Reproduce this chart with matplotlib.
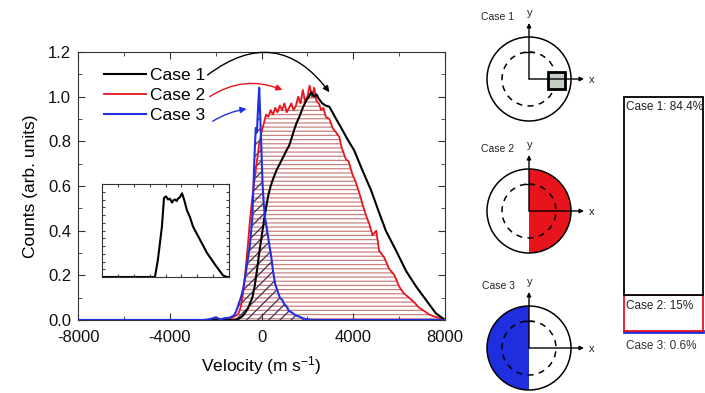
""" Velocity distributions for the three cases + schematic and share bar """

import numpy as np
import matplotlib.pyplot as plt
from matplotlib.patches import Circle, Wedge, Rectangle
from matplotlib.ticker import MultipleLocator

plt.rcParams['font.family'] = ['Liberation Sans', 'DejaVu Sans']
plt.rcParams['mathtext.fontset'] = 'custom'
plt.rcParams['mathtext.rm'] = 'Liberation Sans'
plt.rcParams['mathtext.default'] = 'regular'
plt.rcParams['axes.unicode_minus'] = False
plt.rcParams['hatch.linewidth'] = 0.9

# --- data ---
case1_v = [-8000, -1200, -1000, -800, -600, -400, -300, -200, -100, 0, 100, 210, 300, 400,
           500, 650, 800, 950, 1090, 1200, 1300, 1420, 1520, 1650, 1800, 1960, 2070, 2170,
           2300, 2400, 2500, 2650, 2800, 2960, 3200, 3530, 3800, 4040, 4400, 4780, 5130,
           5420, 5870, 6300, 6740, 7170, 7600, 7870, 8000]
case1_y = [0, 0, 0.005, 0.02, 0.05, 0.1, 0.15, 0.22, 0.3, 0.37, 0.44, 0.51, 0.56, 0.6,
           0.63, 0.67, 0.7, 0.73, 0.76, 0.78, 0.81, 0.85, 0.88, 0.91, 0.95, 0.985, 1.0, 1.02,
           1.0, 1.01, 0.99, 0.97, 0.96, 0.955, 0.91, 0.85, 0.8, 0.76, 0.67, 0.58, 0.48,
           0.4, 0.31, 0.22, 0.15, 0.09, 0.03, 0.01, 0]

case2_v = [-8000, -2000, -1500, -1300, -1100, -1000, -900, -800, -700, -600, -500, -400,
           -300, -200, -100, 0, 100, 200, 300, 400, 500, 600, 700, 800, 900, 1000, 1100,
           1200, 1300, 1400, 1500, 1600, 1700, 1800, 1900, 2000, 2100, 2200, 2300, 2400,
           2500, 2600, 2700, 2800, 2960, 3100, 3250, 3390, 3500, 3680, 3800, 3970, 4100,
           4260, 4400, 4550, 4700, 4840, 5000, 5130, 5350, 5560, 5800, 6000, 6200, 6430,
           6650, 6870, 7100, 7300, 7550, 7830, 8000]
case2_y = [0, 0, 0.005, 0.01, 0.02, 0.03, 0.06, 0.12, 0.22, 0.33, 0.45, 0.55,
           0.63, 0.71, 0.79, 0.84, 0.88, 0.92, 0.91, 0.94, 0.92, 0.95, 0.93, 0.96, 0.94, 0.97,
           0.93, 0.95, 0.97, 0.94, 0.96, 1.0, 0.97, 1.03, 0.98, 1.0, 1.05, 1.0, 1.04, 0.98,
           0.97, 0.94, 0.95, 0.91, 0.9, 0.86, 0.84, 0.82, 0.77, 0.72, 0.71, 0.65, 0.62,
           0.57, 0.52, 0.47, 0.43, 0.38, 0.4, 0.31, 0.28, 0.23, 0.2, 0.15, 0.12, 0.1,
           0.08, 0.055, 0.04, 0.025, 0.015, 0.008, 0]

case3_v = [-8000, -2500, -2200, -2000, -1800, -1600, -1400, -1200, -1100, -1000, -900, -800,
           -700, -600, -500, -400, -350, -300, -250, -200, -150, -100, -50, 0, 50, 100, 150,
           200, 260, 350, 430, 500, 600, 700, 800, 900, 1000, 1100, 1200, 1300, 1500, 1650,
           1800, 2000, 2200, 8000]
case3_y = [0, 0, 0.005, 0.012, 0.003, 0.008, 0.01, 0.02, 0.04, 0.07, 0.1, 0.14,
           0.2, 0.27, 0.34, 0.46, 0.6, 0.75, 0.86, 0.84, 0.95, 1.04, 0.9, 0.75, 0.6, 0.52, 0.46,
           0.43, 0.39, 0.33, 0.28, 0.22, 0.16, 0.13, 0.1, 0.09, 0.07, 0.06, 0.04, 0.035, 0.02,
           0.015, 0.008, 0.002, 0, 0]

inset_v = [-8000, -1330, -960, -450, -190, 60, 320, 560, 820, 1000, 1200, 1400, 1570, 1820,
           2080, 2340, 2700, 3090, 3470, 4350, 5230, 6240, 7250, 7740, 8000]
inset_y = [0, 0, 0.22, 0.65, 1.02, 1.04, 1.0, 1.01, 0.96, 0.99, 1.0, 0.98, 1.01, 1.03,
           1.08, 1.0, 0.86, 0.77, 0.65, 0.48, 0.31, 0.16, 0.02, 0, 0]

labels = ["Case 1", "Case 2", "Case 3"]
colors = ["black", "#e8141c", "#1f2fe0"]
share_pct = [84.4, 15, 0.6]

fig = plt.figure(figsize=(7.05, 3.93), dpi=100)

# --- main distribution plot ---
ax = fig.add_axes([78/705, 73/393, 367/705, 268/393])
ax.fill_between(case2_v, case2_y, 0, facecolor="none", edgecolor="#c98080",
                hatch="----", linewidth=0, zorder=1)
ax.fill_between(case3_v, case3_y, 0, facecolor="none", edgecolor="#3d3556",
                hatch="///", linewidth=0, zorder=1)
l2, = ax.plot(case2_v, case2_y, color=colors[1], lw=1.3, zorder=3)
l1, = ax.plot(case1_v, case1_y, color=colors[0], lw=1.5, zorder=4)
l3, = ax.plot(case3_v, case3_y, color=colors[2], lw=1.5, zorder=5)

ax.set_xlim(-8000, 8000)
ax.set_ylim(0, 1.2)
ax.xaxis.set_major_locator(MultipleLocator(4000))
ax.xaxis.set_minor_locator(MultipleLocator(2000))
ax.yaxis.set_major_locator(MultipleLocator(0.2))
ax.yaxis.set_minor_locator(MultipleLocator(0.1))
ax.yaxis.set_major_formatter(lambda v, p: f"{v:.1f}")
ax.tick_params(which="both", direction="in", top=True, right=True, colors="#333333",
               labelcolor="#111111", labelsize=12)
ax.tick_params(axis="x", pad=7)
ax.tick_params(axis="y", pad=5)
ax.tick_params(which="major", length=5)
ax.tick_params(which="minor", length=3)
for s in ax.spines.values():
    s.set_color("#333333")
ax.set_xlabel("Velocity (m s$^{-1}$)", fontsize=12.5, labelpad=7)
ax.set_ylabel("Counts (arb. units)", fontsize=12.5, labelpad=7)

ax.legend([l1, l2, l3], labels, loc="upper left", bbox_to_anchor=(0.072, 0.94),
          frameon=False, fontsize=12.5, handlelength=2.4, handletextpad=0.2,
          labelspacing=0.28, borderpad=0, borderaxespad=0)

# curved arrows from legend to curves
ax.annotate("", xy=(2960, 1.02), xytext=(-2350, 1.097),
            arrowprops=dict(arrowstyle="-|>", color="black", lw=1, shrinkA=0, shrinkB=0,
                            mutation_scale=9, connectionstyle="arc3,rad=-0.5"))
ax.annotate("", xy=(910, 1.03), xytext=(-2260, 1.0),
            arrowprops=dict(arrowstyle="-|>", color=colors[1], lw=1, shrinkA=0, shrinkB=0,
                            mutation_scale=9, connectionstyle="arc3,rad=-0.26"))
ax.annotate("", xy=(-650, 0.945), xytext=(-2130, 0.89),
            arrowprops=dict(arrowstyle="-|>", color=colors[2], lw=1, shrinkA=0, shrinkB=0,
                            mutation_scale=9, connectionstyle="arc3,rad=-0.1"))

# --- inset ---
ins = fig.add_axes([102/705, 116/393, 127/705, 93/393])
ins.plot(inset_v, inset_y, color="black", lw=1.5)
ins.set_xlim(-8000, 8000)
ins.set_ylim(0, 1.2)
ins.xaxis.set_major_locator(MultipleLocator(2000))
ins.yaxis.set_major_locator(MultipleLocator(0.1))
ins.tick_params(direction="in", length=2, top=True, right=True, labelbottom=False,
                labelleft=False, colors="#444444")
for s in ins.spines.values():
    s.set_color("#333333")

# --- schematic of the three cases ---
sk = fig.add_axes([0, 0, 1, 1], zorder=5)
sk.set_xlim(0, 705)
sk.set_ylim(393, 0)
sk.axis("off")
centers = [(529, 79), (529, 211), (529, 348)]
R, r = 42, 27
for i, (cx, cy) in enumerate(centers):
    if i == 1:
        sk.add_patch(Wedge((cx, cy), R, -90, 90, color=colors[1], lw=0))
    if i == 2:
        sk.add_patch(Wedge((cx, cy), R, 90, 270, color=colors[2], lw=0))
    sk.add_patch(Circle((cx, cy), R, fill=False, ec="black", lw=1.1))
    sk.add_patch(Circle((cx, cy), r, fill=False, ec="black", lw=1.1, ls=(0, (4, 3.5))))
    ap = dict(arrowstyle="-|>", color="black", lw=1, shrinkA=0, shrinkB=0, mutation_scale=6)
    sk.annotate("", xy=(cx, cy - 56), xytext=(cx, cy), arrowprops=ap)
    sk.annotate("", xy=(cx + 55, cy), xytext=(cx, cy), arrowprops=ap)
    sk.plot([cx - 4, cx + 4], [cy - r, cy - r], color="black", lw=1)
    sk.text(cx + 1, cy - 66, "y", fontsize=8, ha="center", va="center", color="#222222")
    sk.text(cx + 63, cy + 1, "x", fontsize=8, ha="center", va="center", color="#222222")
    sk.text(cx - 31, cy - 62, labels[i], fontsize=7.5, ha="center", va="center",
            color="#222222")
sk.add_patch(Rectangle((548, 71.5), 17, 17, fc="#c3cdc3", ec="black", lw=2))

# --- share of each case as a stacked bar ---
bx = fig.add_axes([624/705, 61/393, 79/705, 235/393])
bx.set_xlim(0, 1)
bx.set_ylim(0, 100)
bx.axis("off")
bottom = 0
for name, pct, col in reversed(list(zip(labels, share_pct, colors))):
    face = col if name == "Case 3" else "white"
    bx.bar(0.5, pct, width=1, bottom=bottom, facecolor=face, edgecolor=col,
           lw=2 if name == "Case 3" else 1.3, clip_on=False)
    txt = f"{name}: {pct:g}%"
    if name == "Case 3":
        bx.annotate(txt, (0.02, bottom), xytext=(0, -6), textcoords="offset points",
                    fontsize=8.5, va="top", color="#333333")
    else:
        bx.annotate(txt, (0.02, bottom + pct), xytext=(0, -3), textcoords="offset points",
                    fontsize=8.5, va="top", color="#222222")
    bottom += pct

plt.savefig("out.png", dpi=100)
plt.close()
